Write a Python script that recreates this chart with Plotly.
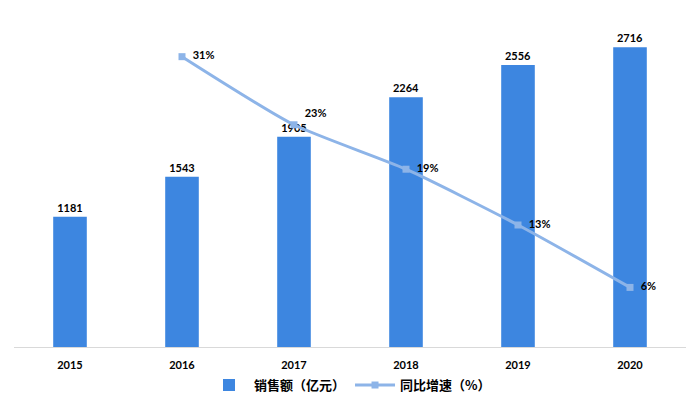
import plotly.graph_objects as go

years = ["2015", "2016", "2017", "2018", "2019", "2020"]
sales = [1181, 1543, 1905, 2264, 2556, 2716]
growth = [None, 30.7, 23.5, 18.8, 12.9, 6.3]
growth_labels = ["", "  31%", "  23%", "  19%", "  13%", "  6%"]
growth_label_pos = ["middle right", "middle right", "top right", "middle right", "middle right", "middle right"]

bar_color = "#3D86E0"
line_color = "#8DB4E8"
font_fam = "Lato, 'Noto Sans CJK SC', sans-serif"

fig = go.Figure()
fig.add_trace(go.Bar(
    x=years, y=sales, name="销售额（亿元）",
    marker=dict(color=bar_color, line=dict(width=0)),
    text=[str(v) for v in sales], textposition="outside",
    textfont=dict(size=11, color="#000000", family=font_fam, weight="bold"),
    cliponaxis=False, yaxis="y",
))
fig.add_trace(go.Scatter(
    x=years, y=growth, name="同比增速（%）", mode="lines+markers+text",
    line=dict(color=line_color, width=3, shape="spline", smoothing=0.6),
    marker=dict(symbol="square", size=7, color=line_color),
    text=growth_labels, textposition=growth_label_pos,
    textfont=dict(size=11, color="#000000", family=font_fam, weight="bold"),
    cliponaxis=False, yaxis="y2",
))

fig.update_layout(
    width=700, height=409,
    margin=dict(l=14, r=14, t=16, b=62, autoexpand=False),
    paper_bgcolor="white", plot_bgcolor="white",
    bargap=0.7,
    font=dict(family=font_fam, size=11, color="#000000"),
    showlegend=True,
    legend=dict(orientation="h", x=0.5, xanchor="center", y=-0.115, yanchor="middle",
                font=dict(size=13, family="'Noto Sans CJK SC', sans-serif", weight="bold"),
                itemwidth=40),
    xaxis=dict(showgrid=False, showline=True, linecolor="#D9D9D9", linewidth=1,
               ticks="", ticklabelstandoff=8, automargin=False,
               tickfont=dict(size=11, family=font_fam, weight="bold")),
    yaxis=dict(range=[0, 3000], visible=False, showgrid=False),
    yaxis2=dict(range=[0, 35], visible=False, overlaying="y", showgrid=False),
)

fig.write_html("out.html")
